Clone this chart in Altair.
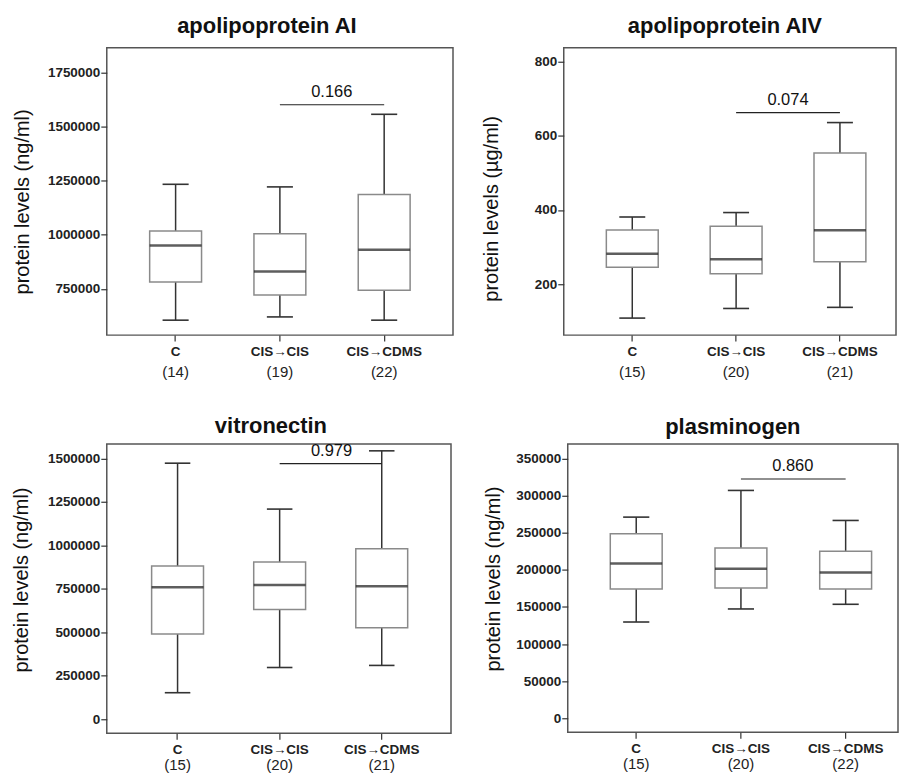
import altair as alt
import pandas as pd

FONT = "Liberation Sans"
cats = ["C", "CIS→CIS", "CIS→CDMS"]

# ---- apolipoprotein AI ----
a1_counts = ["(14)", "(19)", "(22)"]
a1_low = [606000, 621000, 606000]
a1_q1 = [782000, 722000, 744000]
a1_med = [951000, 831000, 931000]
a1_q3 = [1017000, 1005000, 1186000]
a1_high = [1233000, 1221000, 1556000]
a1_sig = 1600000
a1_p = "0.166"
a1_ticks = [750000, 1000000, 1250000, 1500000, 1750000]
a1_domain = [537000, 1863000]

# ---- apolipoprotein AIV ----
a4_counts = ["(15)", "(20)", "(21)"]
a4_low = [108, 134, 137]
a4_q1 = [245, 228, 260]
a4_med = [282, 267, 345]
a4_q3 = [346, 356, 554]
a4_high = [381, 393, 636]
a4_sig = 663
a4_p = "0.074"
a4_ticks = [200, 400, 600, 800]
a4_domain = [62, 838]

# ---- vitronectin ----
vn_counts = ["(15)", "(20)", "(21)"]
vn_low = [153000, 298000, 310000]
vn_q1 = [490000, 631000, 526000]
vn_med = [759000, 773000, 765000]
vn_q3 = [882000, 905000, 981000]
vn_high = [1473000, 1209000, 1544000]
vn_sig = 1471000
vn_p = "0.979"
vn_ticks = [0, 250000, 500000, 750000, 1000000, 1250000, 1500000]
vn_domain = [-80000, 1584000]

# ---- plasminogen ----
pg_counts = ["(15)", "(20)", "(22)"]
pg_low = [129700, 147300, 153600]
pg_q1 = [174300, 175700, 174300]
pg_med = [208600, 201400, 196400]
pg_q3 = [248700, 229700, 225200]
pg_high = [271200, 307200, 266700]
pg_sig = 322600
pg_p = "0.860"
pg_ticks = [0, 50000, 100000, 150000, 200000, 250000, 300000, 350000]
pg_domain = [-19000, 370000]


def panel(title, ytitle, counts, low, q1, med, q3, high, sig, ptxt, ticks, domain,
          width, height, pad_outer, align, title_dx, title_off, ytx, yty, cnt_pad):
    df = pd.DataFrame({"cat": cats, "n": counts, "low": low, "q1": q1,
                       "med": med, "q3": q3, "high": high})
    sig_df = pd.DataFrame({"a": [cats[1]], "b": [cats[2]], "y": [sig], "p": [ptxt]})
    xs = alt.Scale(domain=cats, paddingInner=0, paddingOuter=pad_outer, align=align)
    ys = alt.Scale(domain=domain, nice=False, zero=False)
    yax = alt.Axis(values=ticks, format="d", title=ytitle, grid=False, domain=False,
                   tickSize=6, tickColor="#333", tickWidth=1.2, labelPadding=1,
                   labelFont=FONT, labelFontSize=13.5, labelFontWeight="bold",
                   labelColor="#222", titleFont=FONT, titleFontSize=20,
                   titleFontWeight="normal", titleColor="#111",
                   titleX=ytx, titleY=yty, titleBaseline="alphabetic", titleAngle=270)
    cat_ax = alt.Axis(orient="bottom", title=None, domain=False, tickSize=6,
                      tickColor="#333", tickWidth=1.2, labelPadding=3.5, labelAngle=0,
                      labelFont=FONT, labelFontSize=13.5, labelFontWeight="bold",
                      labelColor="#222")
    expr = "'" + counts[2] + "'"
    for c, n in zip(cats[:2][::-1], counts[:2][::-1]):
        expr = f"datum.value == '{c}' ? '{n}' : " + expr
    cnt_ax = alt.Axis(orient="bottom", title=None, domain=False, ticks=False,
                      labelPadding=cnt_pad, labelAngle=0, labelExpr=expr,
                      labelFont=FONT, labelFontSize=15, labelFontWeight="normal",
                      labelColor="#222")
    base = alt.Chart(df)
    whisk = base.mark_rule(color="#333", strokeWidth=1.5).encode(
        x=alt.X("cat:N", scale=xs, axis=cat_ax, sort=cats),
        y=alt.Y("low:Q", scale=ys, axis=yax), y2="high:Q")
    box = base.mark_bar(fill="white", stroke="#8a8a8a", strokeWidth=1.5, size=52).encode(
        x=alt.X("cat:N", scale=xs, axis=cnt_ax, sort=cats),
        y=alt.Y("q1:Q", scale=ys, axis=yax), y2="q3:Q")
    medt = base.mark_tick(color="#1a1a1a", thickness=2.5, size=52,
                          orient="horizontal").encode(
        x=alt.X("cat:N", scale=xs, axis=None, sort=cats),
        y=alt.Y("med:Q", scale=ys, axis=yax))
    capl = base.mark_rule(color="#333", strokeWidth=1.6).encode(
        x=alt.X("cat:N", scale=xs, axis=None, sort=cats, bandPosition=0.375),
        x2=alt.X2("cat:N", bandPosition=0.625),
        y=alt.Y("low:Q", scale=ys, axis=yax))
    caph = base.mark_rule(color="#333", strokeWidth=1.6).encode(
        x=alt.X("cat:N", scale=xs, axis=None, sort=cats, bandPosition=0.375),
        x2=alt.X2("cat:N", bandPosition=0.625),
        y=alt.Y("high:Q", scale=ys, axis=yax))
    sbase = alt.Chart(sig_df)
    srule = sbase.mark_rule(color="#222", strokeWidth=1.2).encode(
        x=alt.X("a:N", scale=xs, axis=None), x2="b:N",
        y=alt.Y("y:Q", scale=ys, axis=yax))
    stext = sbase.mark_text(font=FONT, fontSize=16.5, color="#111", baseline="bottom",
                            dy=-5, dx=52).encode(
        x=alt.X("a:N", scale=xs, axis=None),
        y=alt.Y("y:Q", scale=ys, axis=yax), text="p:N")
    return alt.layer(whisk, box, medt, capl, caph, srule, stext).resolve_axis(
        x="independent").properties(
        width=width, height=height,
        title=alt.TitleParams(title, font=FONT, fontSize=22, fontWeight="bold",
                              color="#111", anchor="middle", dx=title_dx,
                              offset=title_off, baseline="alphabetic"))


p1 = panel("apolipoprotein AI", "protein levels (ng/ml)", a1_counts, a1_low, a1_q1,
           a1_med, a1_q3, a1_high, a1_sig, a1_p, a1_ticks, a1_domain,
           347, 288, 0.16, 0.5, -13, -7, -78, 154, 29)
p2 = panel("apolipoprotein AIV", "protein levels (µg/ml)", a4_counts, a4_low, a4_q1,
           a4_med, a4_q3, a4_high, a4_sig, a4_p, a4_ticks, a4_domain,
           333, 288, 0.1, 0.8, -5, -7, -66, 161, 29)
p3 = panel("vitronectin", "protein levels (ng/ml)", vn_counts, vn_low, vn_q1,
           vn_med, vn_q3, vn_high, vn_sig, vn_p, vn_ticks, vn_domain,
           345, 290, 0.186, 0.52, -8, -12, -79, 136, 24)
p4 = panel("plasminogen", "protein levels (ng/ml)", pg_counts, pg_low, pg_q1,
           pg_med, pg_q3, pg_high, pg_sig, pg_p, pg_ticks, pg_domain,
           331, 289, 0.077, 1.0, 0, -12.5, -68, 135, 24)

chart = alt.vconcat(
    alt.hconcat(p1, p2, spacing=27),
    alt.hconcat(p3, p4, spacing=31),
    spacing=33,
).properties(
    padding={"left": 3, "top": 5, "right": 0, "bottom": 0}, background="white"
).configure_view(stroke="#555", strokeWidth=1.5)

chart.save("out.html", embed_options={"renderer": "svg", "actions": False})
